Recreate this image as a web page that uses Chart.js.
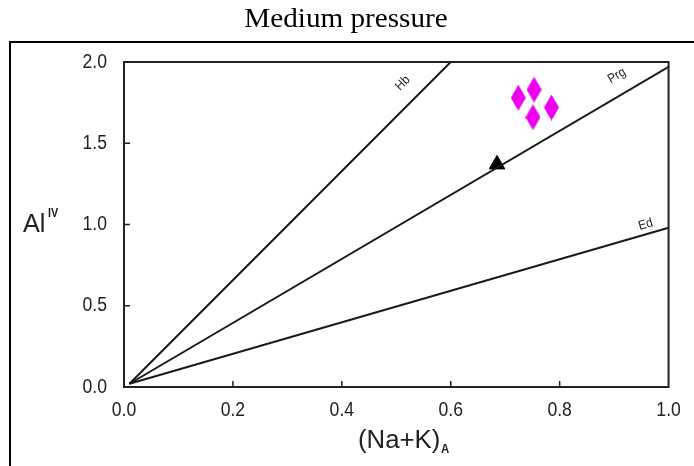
<!DOCTYPE html>
<html>
<head>
<meta charset="utf-8">
<script src="https://cdn.jsdelivr.net/npm/chart.js@4.4.0/dist/chart.umd.min.js"></script>
<style>
  html, body { margin: 0; padding: 0; background: #fff; }
  #wrap { width: 694px; height: 466px; position: relative; }
</style>
</head>
<body>
<div id="wrap"><canvas id="c" width="694" height="466"></canvas></div>
<script>
// reference lines, (Na+K)A vs AlIV
const hbLine = [[0.01, 0.02], [0.6, 2.0]];
const prgLine = [[0.01, 0.02], [1.0, 1.97]];
const edLine = [[0.01, 0.02], [1.0, 0.98]];

// samples
const sampleNaK = [0.724, 0.753, 0.751, 0.785];
const sampleAlIV = [1.78, 1.83, 1.66, 1.72];

// arrow on Prg line
const arrowNaK = [0.685];
const arrowAlIV = [1.37];

const xTicks = [0, 0.2, 0.4, 0.6, 0.8, 1.0];
const yTicks = [0, 0.5, 1.0, 1.5, 2.0];

const toPts = arr => arr.map(p => ({ x: p[0], y: p[1] }));
const SANS = '"Liberation Sans", Arial, sans-serif';

// tall diamond marker
function diamond(w, h, color) {
    const cv = document.createElement('canvas');
    cv.width = w; cv.height = h;
    const g = cv.getContext('2d');
    g.fillStyle = color;
    g.beginPath();
    g.moveTo(w / 2, 0);
    g.lineTo(w, h / 2);
    g.lineTo(w / 2, h);
    g.lineTo(0, h / 2);
    g.closePath();
    g.fill();
    return cv;
}

// text squeezed horizontally by sx
function textX(ctx, str, x, y, align, sx) {
    ctx.save();
    ctx.translate(x, y);
    ctx.scale(sx, 1);
    ctx.textAlign = align;
    ctx.fillText(str, 0, 0);
    ctx.restore();
}

const lineLabels = [
    { text: 'Hb', line: hbLine, x: 0.512, y: 1.87 },
    { text: 'Prg', line: prgLine, x: 0.905, y: 1.915 },
    { text: 'Ed', line: edLine, x: 0.958, y: 1.0 }
];

const decor = {
    id: 'decor',
    afterDraw(chart) {
        const ctx = chart.ctx;
        const xs = chart.scales.x, ys = chart.scales.y;
        const a = chart.chartArea;
        ctx.save();

        // outer frame (left + top)
        ctx.strokeStyle = '#000';
        ctx.lineWidth = 2;
        ctx.beginPath();
        ctx.moveTo(10, 466);
        ctx.lineTo(10, 42);
        ctx.lineTo(694, 42);
        ctx.stroke();

        // plot frame
        ctx.strokeStyle = '#222';
        ctx.lineWidth = 2;
        ctx.strokeRect(a.left, a.top, a.right - a.left, a.bottom - a.top);

        // inner ticks
        ctx.lineWidth = 1.5;
        ctx.beginPath();
        xTicks.slice(1, -1).forEach(v => {
            const px = xs.getPixelForValue(v);
            ctx.moveTo(px, a.bottom);
            ctx.lineTo(px, a.bottom - 6);
        });
        yTicks.slice(1, -1).forEach(v => {
            const py = ys.getPixelForValue(v);
            ctx.moveTo(a.left, py);
            ctx.lineTo(a.left + 6, py);
        });
        ctx.stroke();

        // tick labels
        ctx.fillStyle = '#222';
        ctx.font = '20px ' + SANS;
        ctx.textBaseline = 'middle';
        xTicks.forEach(v => textX(ctx, v.toFixed(1), xs.getPixelForValue(v), 410, 'center', 0.88));
        yTicks.forEach(v => textX(ctx, v.toFixed(1), 107, ys.getPixelForValue(v), 'right', 0.88));

        // line labels
        ctx.font = '13px ' + SANS;
        ctx.textAlign = 'center';
        lineLabels.forEach(l => {
            const p0 = l.line[0], p1 = l.line[1];
            const ang = Math.atan2(ys.getPixelForValue(p1[1]) - ys.getPixelForValue(p0[1]),
                xs.getPixelForValue(p1[0]) - xs.getPixelForValue(p0[0]));
            ctx.save();
            ctx.translate(xs.getPixelForValue(l.x), ys.getPixelForValue(l.y));
            ctx.rotate(ang);
            ctx.scale(0.9, 1);
            ctx.fillText(l.text, 0, 0);
            ctx.restore();
        });

        // title
        ctx.fillStyle = '#000';
        ctx.textBaseline = 'alphabetic';
        ctx.font = '27px "Liberation Serif", "Times New Roman", serif';
        textX(ctx, 'Medium pressure', 346, 27, 'center', 1.08);

        // y title Al^IV
        ctx.fillStyle = '#222';
        ctx.font = '26px ' + SANS;
        textX(ctx, 'Al', 23, 232, 'left', 0.97);
        ctx.font = 'bold 12px ' + SANS;
        textX(ctx, 'IV', 48, 217, 'left', 0.9);

        // x title (Na+K)_A
        ctx.font = '26px ' + SANS;
        textX(ctx, '(Na+K)', 358, 448, 'left', 0.99);
        ctx.font = 'bold 12px ' + SANS;
        textX(ctx, 'A', 441, 453, 'left', 0.95);

        ctx.restore();
    }
};

const lineDs = (data) => ({
    type: 'line',
    data: toPts(data),
    borderColor: '#1a1a1a',
    borderWidth: 2,
    pointRadius: 0,
    fill: false,
    tension: 0
});

new Chart(document.getElementById('c'), {
    type: 'scatter',
    data: {
        datasets: [
            lineDs(hbLine),
            lineDs(prgLine),
            lineDs(edLine),
            {
                data: sampleNaK.map((v, i) => ({ x: v, y: sampleAlIV[i] })),
                pointStyle: diamond(15, 26, '#ee00ee'),
                pointRadius: 8
            },
            {
                data: arrowNaK.map((v, i) => ({ x: v, y: arrowAlIV[i] })),
                pointStyle: 'triangle',
                pointRotation: 240,
                pointRadius: 9,
                backgroundColor: '#000',
                borderColor: '#000'
            }
        ]
    },
    options: {
        responsive: false,
        animation: false,
        layout: { padding: { top: 62, right: 20, left: 0, bottom: 0 } },
        plugins: { legend: { display: false }, tooltip: { enabled: false } },
        scales: {
            x: {
                type: 'linear', min: 0, max: 1,
                afterFit: s => { s.height = 79; },
                afterBuildTicks: s => { s.ticks = xTicks.map(v => ({ value: v })); },
                grid: { display: false, drawTicks: false },
                border: { display: false },
                ticks: { color: 'rgba(0,0,0,0)', padding: 15, font: { size: 15 } }
            },
            y: {
                type: 'linear', min: 0, max: 2,
                afterFit: s => { s.width = 124; },
                afterBuildTicks: s => { s.ticks = yTicks.map(v => ({ value: v })); },
                grid: { display: false, drawTicks: false },
                border: { display: false },
                ticks: { color: 'rgba(0,0,0,0)', padding: 16, font: { size: 15 } }
            }
        }
    },
    plugins: [decor]
});
</script>
</body>
</html>
